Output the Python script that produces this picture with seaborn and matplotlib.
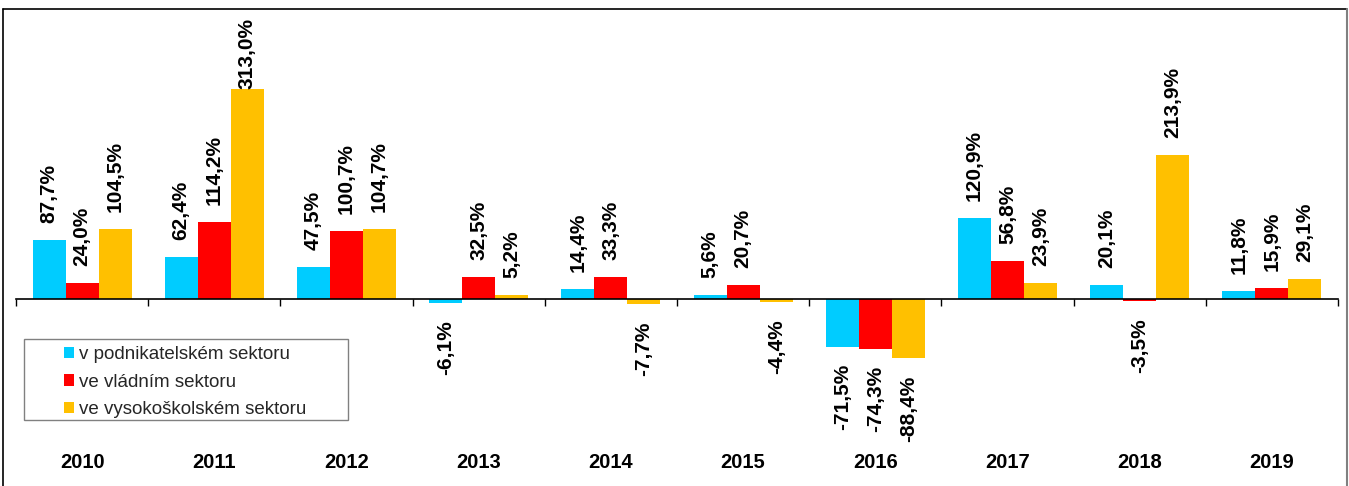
import matplotlib
matplotlib.use("Agg")
import matplotlib.pyplot as plt
import matplotlib.transforms as mtransforms
from matplotlib.lines import Line2D
from matplotlib.patches import Rectangle
import seaborn as sns
import pandas as pd
import numpy as np

years = ["2010", "2011", "2012", "2013", "2014", "2015", "2016", "2017", "2018", "2019"]
series = ["v podnikatelském sektoru", "ve vládním sektoru", "ve vysokoškolském sektoru"]
podnikatelsky = [87.7, 62.4, 47.5, -6.1, 14.4, 5.6, -71.5, 120.9, 20.1, 11.8]
vladni = [24.0, 114.2, 100.7, 32.5, 33.3, 20.7, -74.3, 56.8, -3.5, 15.9]
vysokoskolsky = [104.5, 313.0, 104.7, 5.2, -7.7, -4.4, -88.4, 23.9, 213.9, 29.1]
colors = ["#00CCFF", "#FF0000", "#FFC000"]

sns.set_theme(style="white")
plt.rcParams["font.family"] = ["Liberation Sans", "DejaVu Sans"]

rows = []
for s, vals in zip(series, [podnikatelsky, vladni, vysokoskolsky]):
    for y, v in zip(years, vals):
        rows.append({"rok": y, "sektor": s, "hodnota": v})
df = pd.DataFrame(rows)

W, H = 1349, 486
fig = plt.figure(figsize=(W / 100, H / 100), dpi=100)
ax = fig.add_axes([16 / W, 0, 1322 / W, 1 - 10 / H])

sns.barplot(data=df, x="rok", y="hodnota", hue="sektor", order=years,
            hue_order=series, palette=colors, width=0.75, saturation=1,
            edgecolor="none", linewidth=0, ax=ax, legend=True)

ax.set_xlim(-0.5, len(years) - 0.5)
ax.set_ylim(-278.3, 430)
for sp in ["top", "right", "left"]:
    ax.spines[sp].set_visible(False)
ax.spines["bottom"].set_position(("data", 0))
ax.spines["bottom"].set_color("black")
ax.spines["bottom"].set_linewidth(1.2)
ax.set_yticks([])
ax.set_xticks([])
ax.set_xticks(np.arange(-0.5, len(years), 1.0), minor=True)
ax.tick_params(axis="x", which="minor", bottom=True, length=5, width=1,
               direction="out", color="black", labelbottom=False)
ax.set_xlabel("")
ax.set_ylabel("")

# value labels
pos_labels = []
for cont in ax.containers:
    for bar in cont:
        v = bar.get_height()
        x = bar.get_x() + bar.get_width() / 2
        txt = f"{v:.1f}%".replace(".", ",")
        if v >= 0:
            a = ax.annotate(txt, (x, v), xytext=(0, 17), textcoords="offset pixels",
                            rotation=90, ha="center", va="bottom",
                            fontsize=15, fontweight="bold", color="black")
            pos_labels.append(a)
        else:
            ax.annotate(txt, (x, v), xytext=(0, -17), textcoords="offset pixels",
                        rotation=90, ha="center", va="top",
                        fontsize=15, fontweight="bold", color="black")

# category labels
trans = mtransforms.blended_transform_factory(ax.transData, ax.transAxes)
for i, y in enumerate(years):
    ax.text(i, 24 / 476, y, transform=trans, ha="center", va="center",
            fontsize=14.5, fontweight="bold", color="black")

# legend
handles, labels = ax.get_legend_handles_labels()
ax.legend(handles, labels, loc="upper left",
          bbox_to_anchor=(64 / W, 1 - 346 / H), bbox_transform=fig.transFigure,
          fontsize=13.5, frameon=False, handlelength=0.55, handleheight=0.55,
          handletextpad=0.25, borderpad=0, labelspacing=0.57, borderaxespad=0)
fig.add_artist(Rectangle((24 / W, 1 - 420 / H), 324 / W, 81 / H,
                         transform=fig.transFigure, fill=False,
                         edgecolor="#808080", lw=1))

# keep labels inside the plot area (as the original does)
fig.canvas.draw()
renderer = fig.canvas.get_renderer()
limit = H - 18
for a in pos_labels:
    bb = a.get_window_extent(renderer)
    if bb.y1 > limit:
        shift = bb.y1 - limit
        a.set_position((0, 17 - shift))

# chart frame
fig.add_artist(Line2D([3 / W, 3 / W], [0, 1 - 9 / H], transform=fig.transFigure,
                      color="black", lw=1.2))
fig.add_artist(Line2D([3 / W, 1347 / W], [1 - 9 / H, 1 - 9 / H], transform=fig.transFigure,
                      color="black", lw=1.2))
fig.add_artist(Line2D([1347 / W, 1347 / W], [0, 1 - 9 / H], transform=fig.transFigure,
                      color="#808080", lw=1.5))

fig.savefig("out.png", dpi=100)
